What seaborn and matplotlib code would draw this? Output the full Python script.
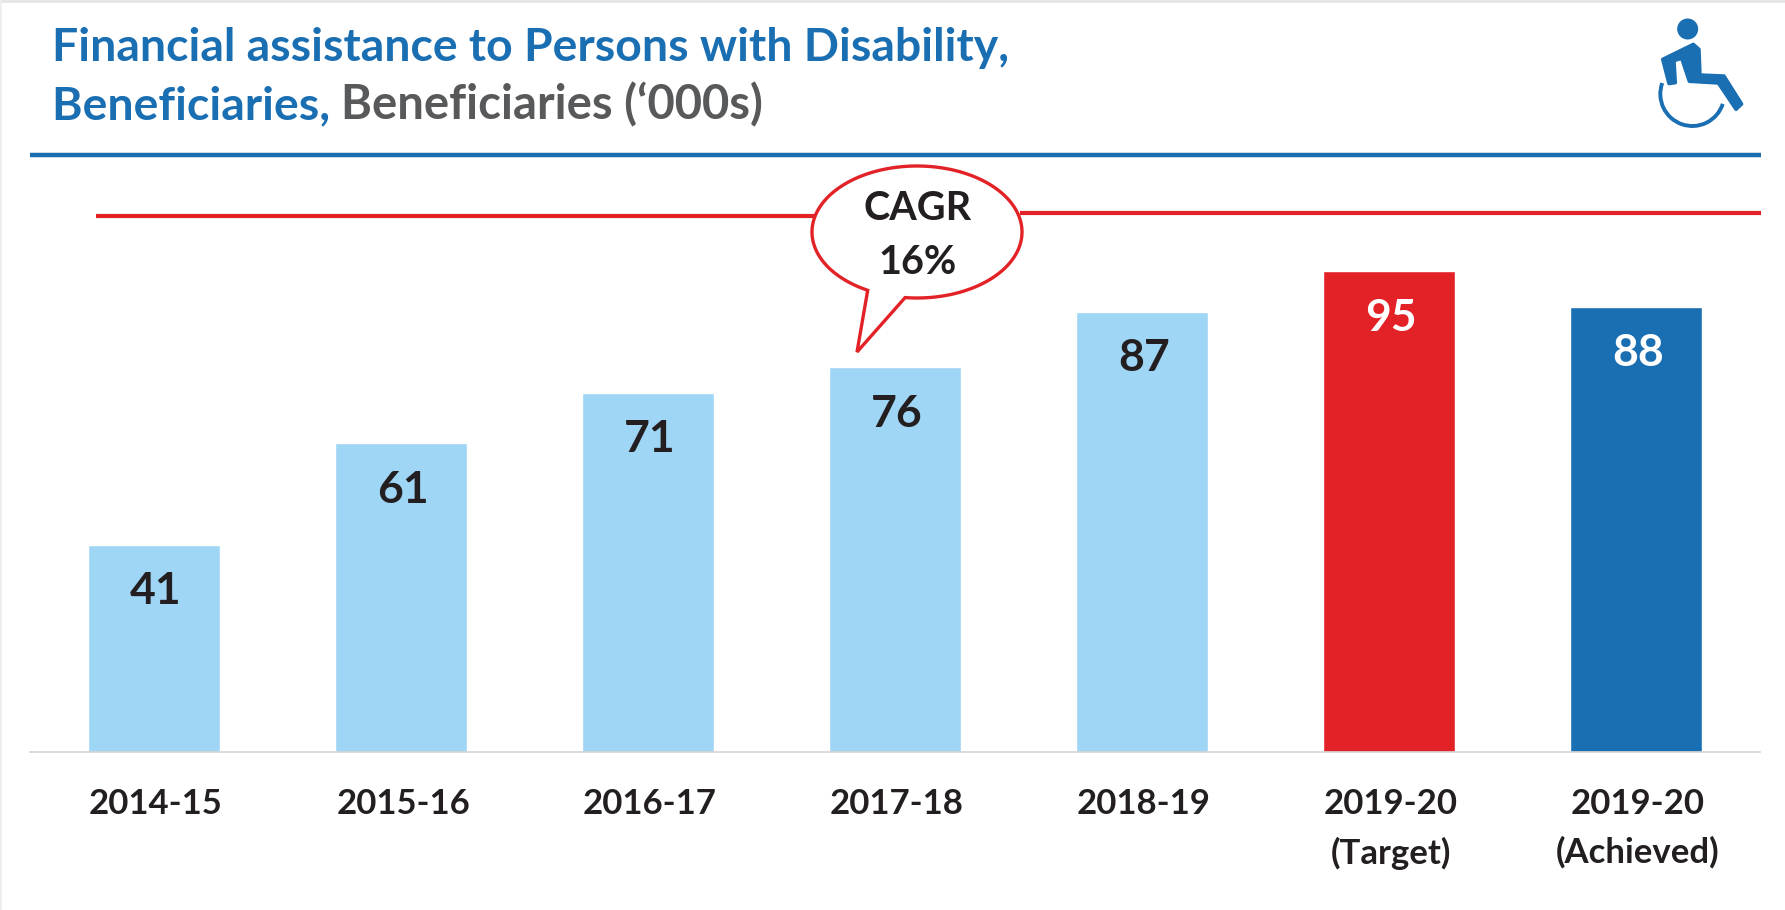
import numpy as np
import pandas as pd
import matplotlib.pyplot as plt
import seaborn as sns
from matplotlib.patches import Circle, Polygon, Arc, Rectangle
from matplotlib.transforms import ScaledTranslation

years = ['2014-15', '2015-16', '2016-17', '2017-18', '2018-19', '2019-20\n(Target)', '2019-20\n(Achieved)']
beneficiaries = [41, 61, 71, 76, 87, 95, 88]
bar_colors = ['#9fd5f5', '#9fd5f5', '#9fd5f5', '#9fd5f5', '#9fd5f5', '#e32227', '#1a6eb2']
label_colors = ['#231f20', '#231f20', '#231f20', '#231f20', '#231f20', 'white', 'white']

BLUE = '#1a6eb2'
RED = '#e32227'
GREY = '#58595b'
DARK = '#231f20'
W, H = 1785, 910

sns.set_theme(style='white')
plt.rcParams['font.family'] = ['Lato', 'DejaVu Sans']

df = pd.DataFrame({'year': years, 'value': beneficiaries})

fig = plt.figure(figsize=(W / 100, H / 100), dpi=100, facecolor='white')
# axes placed in pixels: baseline at y=752, 5.06 px per unit
ax = fig.add_axes([30.5 / W, (H - 752) / H, 1729 / W, 592 / H])
sns.barplot(data=df, x='year', y='value', hue='year', palette=bar_colors,
            legend=False, width=0.535, dodge=False, saturation=1, ax=ax)
ax.set_xlim(-0.5, 6.5)
ax.set_ylim(0, 592 / 5.06)
ax.set_xlabel('')
ax.set_ylabel('')
ax.set_yticks([])
for side in ['top', 'left', 'right']:
    ax.spines[side].set_visible(False)
ax.spines['bottom'].set_color('#d4d4d4')
ax.spines['bottom'].set_linewidth(1.2)
ax.tick_params(axis='x', length=0, pad=26)
for tick in ax.get_xticklabels():
    tick.set_fontsize(25)
    tick.set_fontweight('bold')
    tick.set_color(DARK)
    tick.set_linespacing(1.6)
    tick.set_transform(tick.get_transform() + ScaledTranslation(2 / 100, 0, fig.dpi_scale_trans))
for container, color in zip(ax.containers, label_colors):
    for label in ax.bar_label(container, padding=-48, fontsize=32, fontweight='bold', color=color):
        label.xyann = (1.5, -48)

# overlay in pixel coordinates for header, icon and callout
ov = fig.add_axes([0, 0, 1, 1], facecolor='none')
ov.set_xlim(0, W)
ov.set_ylim(H, 0)
ov.axis('off')

ov.add_patch(Rectangle((0, 0), W, 3, color='#e6e6e6', lw=0))
ov.add_patch(Rectangle((0, 0), 2, H, color='#eeeeee', lw=0))

ov.text(52, 61, 'Financial assistance to Persons with Disability,', fontsize=33.4,
        fontweight='bold', color=BLUE, va='baseline')
t1 = ov.text(52, 119, 'Beneficiaries, ', fontsize=33.4, fontweight='bold', color=BLUE, va='baseline')
ov.annotate('Beneficiaries (‘000s)', xy=(1, 0), xycoords=t1, va='bottom', fontsize=34,
            fontweight='bold', color=GREY)

ov.plot([30, 1761], [155, 155], color=BLUE, lw=3.2, solid_capstyle='butt')
ov.plot([96, 815], [216, 216], color=RED, lw=3, solid_capstyle='butt')
ov.plot([1020, 1761], [213, 213], color=RED, lw=3, solid_capstyle='butt')

# speech bubble: ellipse outline opened where the tail joins
th = np.radians(np.linspace(118, 456.5, 200))
cx, cy, rx, ry = 917, 232, 105, 66
ex = cx + rx * np.cos(th)
ey = cy + ry * np.sin(th)
outline = np.column_stack([np.r_[ex, 857], np.r_[ey, 352]])
ov.add_patch(Polygon(outline, closed=True, facecolor='white', edgecolor=RED, lw=2.4, joinstyle='miter'))
ov.text(918, 209, 'CAGR', fontsize=28.5, fontweight='bold', color=DARK, ha='center', va='center')
ov.text(918, 262, '16%', fontsize=28.5, fontweight='bold', color=DARK, ha='center', va='center')

# wheelchair icon
def ix(v):
    return 1600 + v / 3
def iy(v):
    return v / 3
ov.add_patch(Circle((ix(263), iy(87)), 10.5, color=BLUE, lw=0))
body = [(188, 178), (280, 133), (297, 148), (300, 225), (372, 228), (425, 312), (408, 328),
        (355, 249), (268, 244), (245, 175), (222, 182), (226, 248), (207, 251)]
ov.add_patch(Polygon([(ix(a), iy(b)) for a, b in body], closed=True, facecolor=BLUE, edgecolor=BLUE,
                     lw=2.5, joinstyle='round'))
ov.add_patch(Arc((ix(277), iy(282)), 64, 64, theta1=18, theta2=200, color=BLUE, lw=2.8))

fig.savefig('out.png', dpi=100)
plt.close(fig)
